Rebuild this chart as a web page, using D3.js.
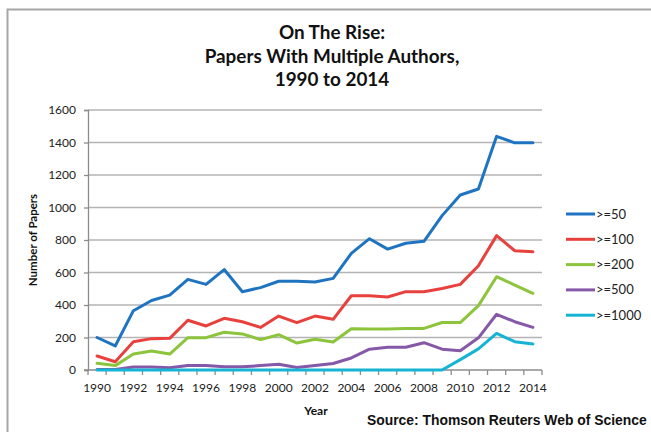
<!DOCTYPE html>
<html>
<head>
<meta charset="utf-8">
<script src="https://cdn.jsdelivr.net/npm/d3@7"></script>
<style>
  body { margin: 0; background: #fff; }
  svg { display: block; }
  .tick text { font-family: Lato, sans-serif; font-size: 12px; fill: #222; }
</style>
</head>
<body>
<div id="chart"></div>
<script>
// ----------------------------------------------
// Data
// ----------------------------------------------
var years = d3.range(1990, 2015);
var seriesNames = [">=50", ">=100", ">=200", ">=500", ">=1000"];
var yTicks = [0, 200, 400, 600, 800, 1000, 1200, 1400, 1600];

var over50 = [200, 148, 365, 428, 461, 558, 527, 618, 482, 507, 546, 546, 541, 564, 718, 808, 744, 780, 792, 950, 1077, 1114, 1438, 1398, 1398];
var over100 = [86, 51, 174, 193, 195, 306, 271, 318, 297, 262, 332, 291, 332, 312, 457, 457, 449, 482, 482, 502, 527, 642, 827, 734, 728];
var over200 = [41, 27, 98, 117, 98, 199, 199, 232, 222, 187, 217, 166, 189, 172, 254, 252, 252, 256, 256, 292, 292, 396, 574, 523, 472];
var over500 = [3, 3, 18, 18, 14, 27, 27, 20, 20, 27, 35, 15, 28, 40, 74, 128, 140, 140, 168, 128, 119, 198, 343, 297, 262];
var over1000 = [0, 0, 0, 0, 0, 0, 0, 0, 0, 0, 0, 0, 0, 0, 0, 0, 0, 0, 0, 0, 64, 130, 225, 174, 160];

var colors = ["#1f74c2", "#e8403c", "#8cc43c", "#8559a8", "#16b4d4"];

// ----------------------------------------------
// Basic D3 Setup
// ----------------------------------------------
var svgWidth = 651;
var svgHeight = 432;

var plot = { left: 88, right: 542, top: 110, bottom: 370 };

var svg = d3.select("#chart")
    .append("svg")
    .attr("width", svgWidth)
    .attr("height", svgHeight);

// chart frame (left and top edges visible)
svg.append("path")
    .attr("d", "M7.5,432 V9.5 H651")
    .attr("fill", "none")
    .attr("stroke", "#a6a6a6")
    .attr("stroke-width", 2);

// fit a text element to a given width
function fitText(sel, width) {
    var size = parseFloat(sel.style("font-size"));
    var len = sel.node().getComputedTextLength();
    sel.style("font-size", (size * width / len) + "px");
}

// ----------------------------------------------
// Scales and axes
// ----------------------------------------------
var xScale = d3.scalePoint()
    .domain(years)
    .range([plot.left, plot.right])
    .padding(0.5);
var step = xScale.step();

var yScale = d3.scaleLinear()
    .domain([0, 1600])
    .range([plot.bottom, plot.top]);

// gridlines
svg.append("g")
    .selectAll("line")
    .data(yTicks.slice(1))
    .enter()
    .append("line")
    .attr("x1", plot.left)
    .attr("x2", plot.right)
    .attr("y1", d => yScale(d))
    .attr("y2", d => yScale(d))
    .attr("stroke", "#b4b4b4")
    .attr("stroke-width", 1.3);

// y axis
var yAxis = svg.append("g")
    .attr("transform", `translate(${plot.left},0)`)
    .call(d3.axisLeft(yScale).tickValues(yTicks).tickFormat(d3.format("d")).tickSize(4).tickPadding(8));
yAxis.select(".domain").attr("stroke", "#8c8c8c").attr("stroke-width", 1.3);
yAxis.selectAll(".tick line").attr("stroke", "#8c8c8c").attr("stroke-width", 1.3);

// x axis: ticks between categories, labels every other year
var xAxis = svg.append("g")
    .attr("transform", `translate(0,${plot.bottom})`);
xAxis.append("line")
    .attr("x1", plot.left - 4)
    .attr("x2", plot.right)
    .attr("stroke", "#8c8c8c")
    .attr("stroke-width", 1.3);
xAxis.selectAll(".xtick")
    .data(d3.range(years.length + 1))
    .enter()
    .append("line")
    .attr("x1", i => plot.left + i * step)
    .attr("x2", i => plot.left + i * step)
    .attr("y1", 0)
    .attr("y2", 5)
    .attr("stroke", "#8c8c8c")
    .attr("stroke-width", 1.3);
xAxis.selectAll(".xlabel")
    .data(years.filter(y => y % 2 === 0))
    .enter()
    .append("text")
    .attr("x", d => xScale(d))
    .attr("y", 22)
    .attr("text-anchor", "middle")
    .style("font-family", "Lato, sans-serif")
    .style("font-size", "12px")
    .attr("fill", "#222")
    .text(d => d);

// ----------------------------------------------
// Lines
// ----------------------------------------------
var allSeries = [over50, over100, over200, over500, over1000];

var line = d3.line()
    .x((d, i) => xScale(years[i]))
    .y(d => yScale(d));

svg.append("g")
    .selectAll("path")
    .data(allSeries)
    .enter()
    .append("path")
    .attr("d", d => line(d))
    .attr("fill", "none")
    .attr("stroke", (d, i) => colors[i])
    .attr("stroke-width", 3)
    .attr("stroke-linejoin", "round")
    .attr("stroke-linecap", "round");

// ----------------------------------------------
// Legend
// ----------------------------------------------
var legend = svg.append("g")
    .attr("transform", "translate(566,214)");
var legendRow = legend.selectAll("g")
    .data(seriesNames)
    .enter()
    .append("g")
    .attr("transform", (d, i) => `translate(0,${i * 25.3})`);
legendRow.append("line")
    .attr("x1", 0)
    .attr("x2", 29)
    .attr("stroke", (d, i) => colors[i])
    .attr("stroke-width", 3);
legendRow.append("text")
    .attr("x", 30)
    .attr("y", 4.5)
    .style("font-family", "Lato, sans-serif")
    .style("font-size", "13px")
    .attr("fill", "#222")
    .text(d => d);

// ----------------------------------------------
// Titles
// ----------------------------------------------
var titleLines = ["On The Rise:", "Papers With Multiple Authors,", "1990 to 2014"];
var title = svg.append("g");
var titleText = title.selectAll("text")
    .data(titleLines)
    .enter()
    .append("text")
    .attr("x", 332)
    .attr("y", (d, i) => 39 + i * 23.5)
    .attr("text-anchor", "middle")
    .style("font-family", "Lato, sans-serif")
    .style("font-weight", "bold")
    .style("font-size", "17px")
    .attr("fill", "#111")
    .text(d => d);
fitText(d3.select(titleText.nodes()[1]), 255);
var titleSize = d3.select(titleText.nodes()[1]).style("font-size");
titleText.style("font-size", titleSize);

svg.append("text")
    .attr("transform", "translate(37,240)rotate(-90)")
    .attr("text-anchor", "middle")
    .style("font-family", "Lato, sans-serif")
    .style("font-weight", "bold")
    .style("font-size", "11.5px")
    .attr("fill", "#111")
    .text("Number of Papers");

svg.append("text")
    .attr("x", 316)
    .attr("y", 415)
    .attr("text-anchor", "middle")
    .style("font-family", "Lato, sans-serif")
    .style("font-weight", "bold")
    .style("font-size", "12px")
    .attr("fill", "#111")
    .text("Year");

var source = svg.append("text")
    .attr("x", 367)
    .attr("y", 425)
    .style("font-family", "'Liberation Sans', Arial, sans-serif")
    .style("font-weight", "bold")
    .style("font-size", "13px")
    .attr("fill", "#111")
    .text("Source: Thomson Reuters Web of Science");
fitText(source, 280);
</script>
</body>
</html>
